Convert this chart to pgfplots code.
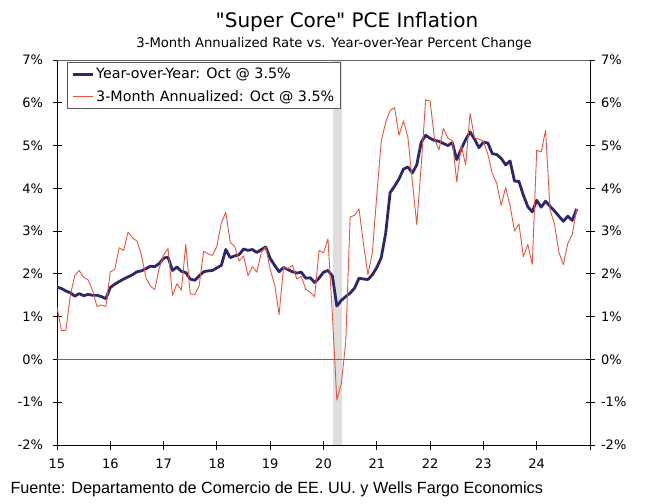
\documentclass[border=0pt]{standalone}
\usepackage{pgfplots}
\pgfplotsset{compat=1.18}
\usepackage{pgfplotstable}
\usepackage{fontspec}
\setmainfont{DejaVu Sans}[Ligatures=TeXOff]
\newfontfamily\arialfont{Liberation Sans}
\definecolor{navy}{RGB}{44,40,105}
\definecolor{redl}{RGB}{233,84,62}
\definecolor{shade}{RGB}{222,222,222}

\pgfplotstableread{
m yoy ann
0 1.69 1.22
1 1.66 0.68
2 1.60 0.68
3 1.56 1.50
4 1.48 1.96
5 1.54 2.08
6 1.49 1.92
7 1.52 1.86
8 1.50 1.62
9 1.50 1.24
10 1.47 1.27
11 1.42 1.24
12 1.68 2.05
13 1.76 2.10
14 1.82 2.61
15 1.88 2.55
16 1.93 2.98
17 1.98 2.84
18 2.05 2.77
19 2.07 2.45
20 2.12 1.92
21 2.18 1.72
22 2.17 1.63
23 2.24 2.12
24 2.37 2.45
25 2.39 2.59
26 2.08 1.50
27 2.16 1.77
28 2.06 1.62
29 2.03 2.69
30 1.88 1.53
31 1.85 1.52
32 1.95 1.72
33 2.05 2.53
34 2.07 2.47
35 2.08 2.43
36 2.14 2.65
37 2.20 3.19
38 2.57 3.44
39 2.38 2.74
40 2.42 2.64
41 2.45 2.30
42 2.58 2.42
43 2.55 1.96
44 2.57 2.17
45 2.50 2.04
46 2.57 2.50
47 2.63 2.63
48 2.36 2.10
49 2.20 1.75
50 2.05 1.05
51 2.15 2.15
52 2.10 2.12
53 2.05 2.20
54 2.02 1.88
55 2.04 1.94
56 1.90 1.64
57 1.91 1.57
58 1.80 1.47
59 1.90 2.55
60 2.04 2.49
61 2.08 2.82
62 1.95 1.05
63 1.25 -0.95
64 1.38 -0.57
65 1.47 0.40
66 1.55 3.33
67 1.67 3.37
68 1.90 3.52
69 1.88 2.70
70 1.87 1.98
71 1.98 2.50
72 2.15 3.85
73 2.38 5.10
74 2.95 5.55
75 3.90 5.82
76 4.05 5.89
77 4.22 5.24
78 4.45 5.58
79 4.50 5.20
80 4.36 4.15
81 4.55 3.15
82 5.08 4.54
83 5.24 6.07
84 5.17 6.04
85 5.12 5.15
86 5.10 4.90
87 5.05 5.40
88 5.00 5.17
89 5.07 5.12
90 4.67 4.15
91 4.92 5.00
92 5.14 4.55
93 5.32 5.75
94 5.15 5.18
95 4.95 5.15
96 5.08 5.10
97 5.06 4.80
98 4.81 4.35
99 4.79 4.12
100 4.70 3.60
101 4.55 4.02
102 4.64 3.60
103 4.17 3.00
104 4.16 3.17
105 3.84 2.40
106 3.57 2.69
107 3.45 2.22
108 3.72 4.89
109 3.56 4.85
110 3.70 5.36
111 3.58 3.50
112 3.47 3.17
113 3.35 2.50
114 3.23 2.22
115 3.35 2.71
116 3.25 2.92
117 3.52 3.52
}\data

\pgfplotsset{
  common/.style={
    at={(57pt,-445pt)}, anchor=south west, scale only axis,
    width=533pt, height=385pt,
    xmin=0, xmax=120, ymin=-2, ymax=7,
    ytick={-2,-1,...,7},
    yticklabel={\pgfmathprintnumber{\tick}\%},
    /pgf/number format/assume math mode=true,
    tick label style={font=\fontsize{13}{15}\selectfont, text=black},
    axis line style={black, line width=0.9pt},
    major tick style={black, line width=0.9pt},
    major tick length=9pt,
    tick align=center,
  }
}

\begin{document}
\begin{tikzpicture}
\path[use as bounding box] (0pt,0pt) rectangle (650pt,-503pt);
\node[anchor=base] at (347pt,-28pt) {\fontsize{20}{24}\selectfont "Super Core" PCE Inflation};
\node[anchor=base] at (334pt,-48pt) {\fontsize{13.2}{15}\selectfont 3-Month Annualized Rate vs. Year-over-Year Percent Change};

\begin{axis}[common,
  axis x line*=bottom, axis y line*=left,
  xtick={0,12,...,120},
  xticklabels={15,16,17,18,19,20,21,22,23,24,{}},
  xticklabel style={yshift=-6pt},
  yticklabel style={xshift=-6pt},
  legend style={at={(0.0188,0.995)}, anchor=north west, draw=black!65,
    line width=0.8pt, font=\fontsize{14.3}{16}\selectfont, inner xsep=4pt, inner ysep=4pt,
    row sep=6pt, fill=white},
  legend cell align=left,
  legend image code/.code={\draw[#1] (0pt,0pt) -- (20pt,0pt);},
]
\addplot[fill=shade, draw=none, forget plot] coordinates {(62.2,-2) (64.1,-2) (64.1,7) (62.2,7)} -- cycle;
\addplot[black!60, line width=0.8pt, forget plot] coordinates {(0,0) (120,0)};
\addplot[navy, line width=2.8pt, line join=round] table[x=m, y=yoy] {\data};
\addplot[redl, line width=0.9pt, line join=round] table[x=m, y=ann] {\data};
\legend{Year-over-Year: Oct @ 3.5\%, 3-Month Annualized: Oct @ 3.5\%}
\end{axis}

\begin{axis}[common,
  axis y line*=right, axis x line=none,
  yticklabel style={xshift=3pt},
]
\end{axis}

\draw[black!60, line width=0.9pt] (57pt,-60pt) -- (590pt,-60pt);

\node[anchor=base west] at (7pt,-493pt) {\arialfont\fontsize{16.2}{18}\selectfont Fuente: Departamento de Comercio de EE. UU. y Wells Fargo Economics};
\end{tikzpicture}
\end{document}
